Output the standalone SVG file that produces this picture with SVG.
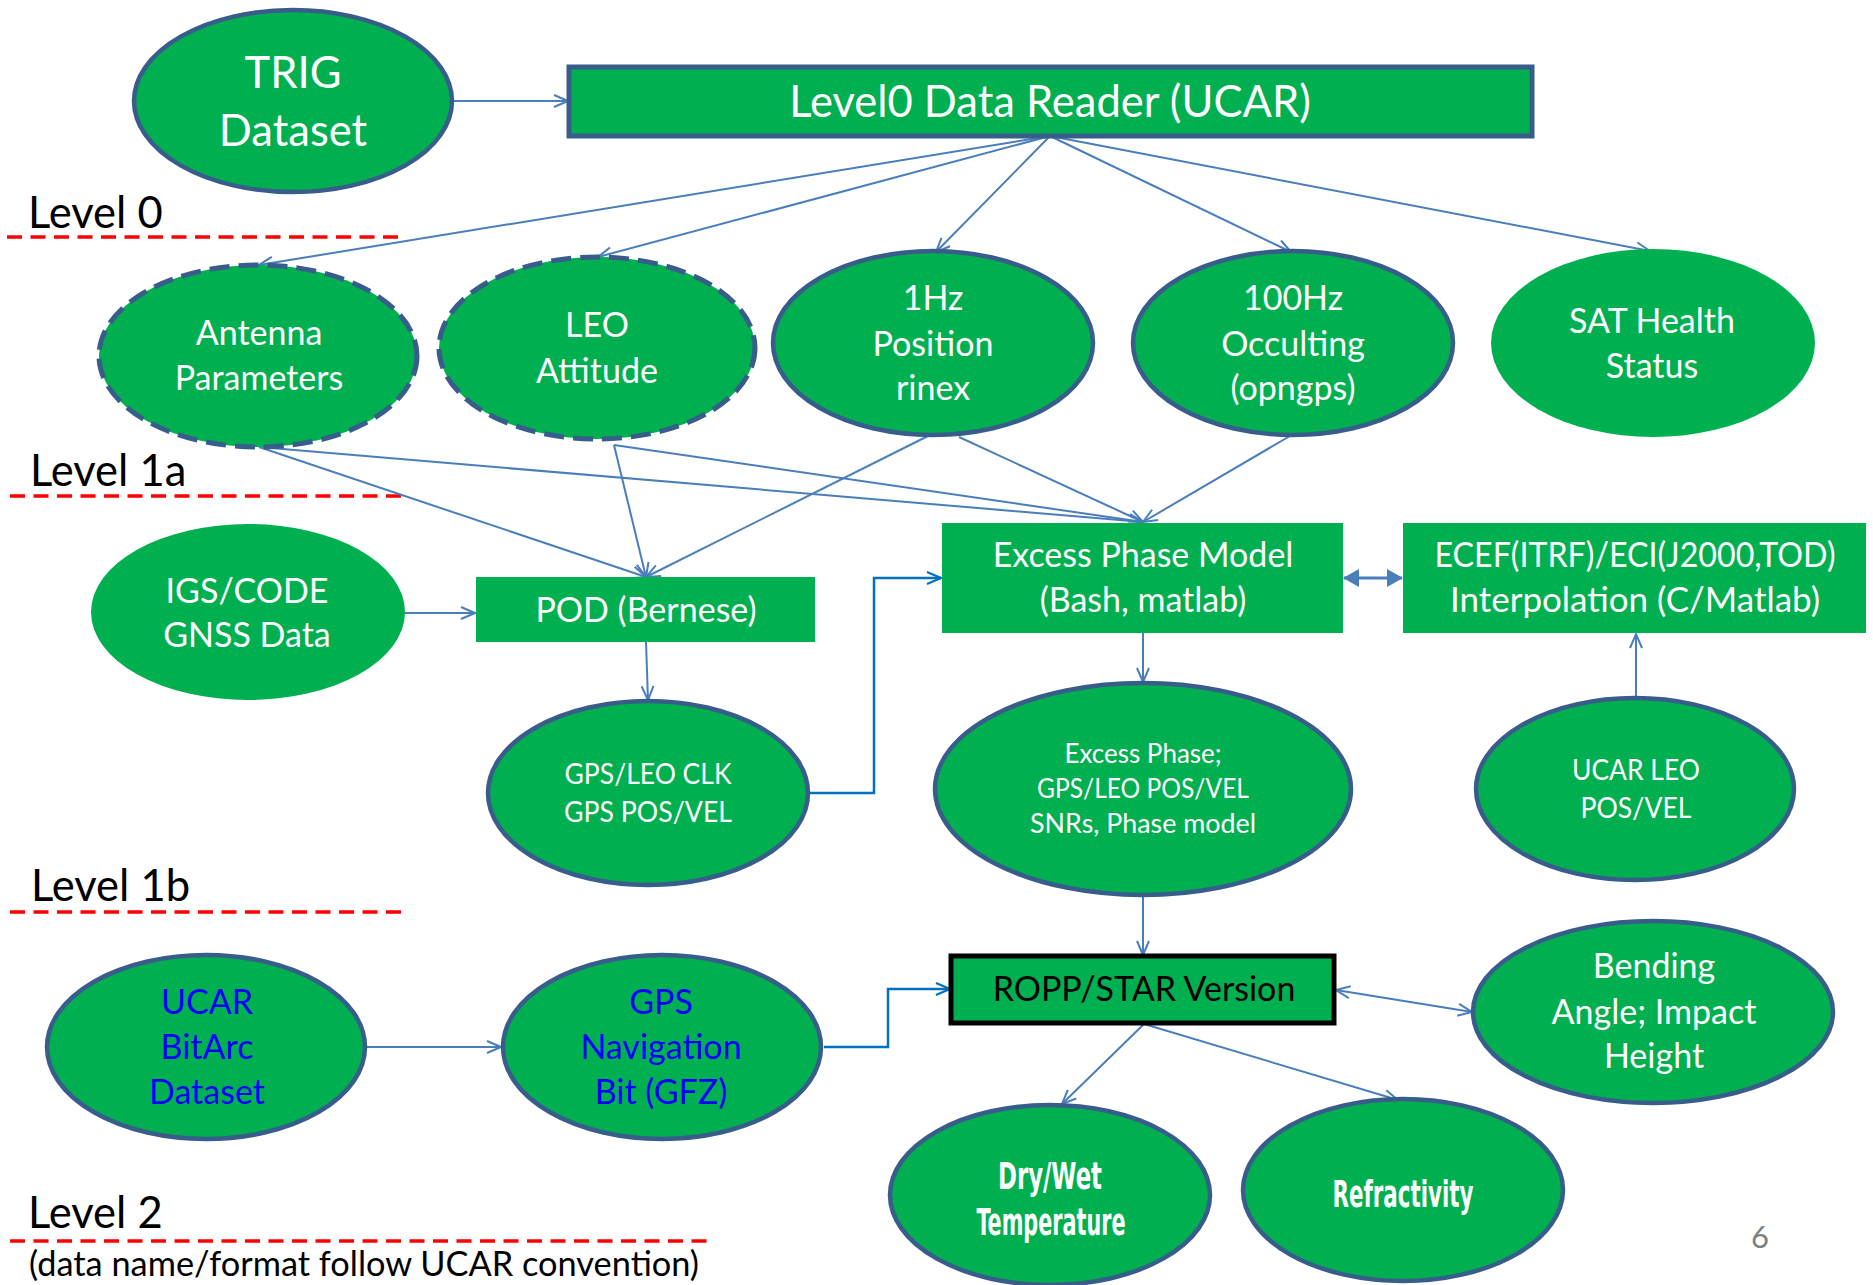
<svg xmlns="http://www.w3.org/2000/svg" width="1873" height="1285" viewBox="0 0 1873 1285">
<defs>
<style>
.g{fill:#00B050}
.o{stroke:#385D8A;stroke-width:4.5}
.d{stroke:#385D8A;stroke-width:5;stroke-dasharray:20 9}
.t{font-family:Lato,"Liberation Sans",sans-serif;fill:#FFFFFF;text-anchor:middle}
.s48{font-size:43.5px}
.s36{font-size:34px}
.s32{font-size:28px}
.s29{font-size:26px}
.blue{fill:#0000FF}
.lvl{font-family:Lato,"Liberation Sans",sans-serif;font-size:43.5px;fill:#000000}
.dash{stroke:#FF0000;stroke-width:3.5;stroke-dasharray:15 8.5;fill:none}
.c{stroke:#4A7EBB;stroke-width:2;fill:none}
.e{stroke:#0070C0;stroke-width:2.5;fill:none}
.imp{font-family:"DejaVu Sans Condensed","DejaVu Sans",sans-serif;font-weight:bold;font-stretch:condensed;fill:#FFFFFF;text-anchor:middle;font-size:38px}
</style>
<marker id="a" markerUnits="userSpaceOnUse" viewBox="0 0 16 14" markerWidth="16" markerHeight="14" refX="15" refY="7" orient="auto-start-reverse">
<path d="M1,1 L15,7 L1,13" fill="none" stroke="#4A7EBB" stroke-width="2"/>
</marker>
<marker id="b" markerUnits="userSpaceOnUse" viewBox="0 0 16 14" markerWidth="16" markerHeight="14" refX="15" refY="7" orient="auto">
<path d="M1,1 L15,7 L1,13" fill="none" stroke="#0070C0" stroke-width="2.2"/>
</marker>
<marker id="f" markerUnits="userSpaceOnUse" viewBox="0 0 16 18" markerWidth="16" markerHeight="18" refX="15" refY="9" orient="auto-start-reverse">
<path d="M0,0 L16,9 L0,18 z" fill="#4A7EBB"/>
</marker>
</defs>
<rect width="1873" height="1285" fill="#FFFFFF"/>

<g id="levels">
<text class="lvl" x="28" y="228">Level 0</text>
<line class="dash" x1="7" y1="237" x2="406" y2="237"/>
<text class="lvl" x="30" y="486">Level 1a</text>
<line class="dash" x1="10" y1="496" x2="409" y2="496"/>
<text class="lvl" x="31" y="901">Level 1b</text>
<line class="dash" x1="10" y1="912" x2="409" y2="912"/>
<text class="lvl" x="28" y="1228">Level 2</text>
<line class="dash" x1="10" y1="1241" x2="712" y2="1241"/>
<text class="lvl" x="29" y="1276" style="font-size:34.4px" textLength="670" lengthAdjust="spacingAndGlyphs">(data name/format follow UCAR convention)</text>
<text x="1751" y="1248" style="font-family:Lato,'Liberation Sans',sans-serif;font-size:31px;fill:#7F7F7F">6</text>
</g>

<g id="connectors">
<line class="c" x1="452" y1="101" x2="568" y2="101" marker-end="url(#a)"/>
<line class="c" x1="1050" y1="136" x2="259" y2="265" marker-end="url(#a)"/>
<line class="c" x1="1050" y1="136" x2="598" y2="257" marker-end="url(#a)"/>
<line class="c" x1="1050" y1="136" x2="936" y2="252" marker-end="url(#a)"/>
<line class="c" x1="1050" y1="136" x2="1291" y2="252" marker-end="url(#a)"/>
<line class="c" x1="1050" y1="136" x2="1650" y2="251" marker-end="url(#a)"/>
<line class="c" x1="259" y1="447" x2="646" y2="577" marker-end="url(#a)"/>
<line class="c" x1="614" y1="445" x2="646" y2="577" marker-end="url(#a)"/>
<line class="c" x1="932" y1="434" x2="646" y2="577" marker-end="url(#a)"/>
<line class="c" x1="259" y1="447" x2="1143" y2="522" marker-end="url(#a)"/>
<line class="c" x1="614" y1="445" x2="1143" y2="522" marker-end="url(#a)"/>
<line class="c" x1="959" y1="437" x2="1143" y2="522" marker-end="url(#a)"/>
<line class="c" x1="1290" y1="436" x2="1143" y2="522" marker-end="url(#a)"/>
<line class="c" x1="405" y1="613" x2="475" y2="613" marker-end="url(#a)"/>
<line class="c" x1="646" y1="642" x2="648" y2="700" marker-end="url(#a)"/>
<polyline class="e" points="808,793 874,793 874,578 941,578" marker-end="url(#b)"/>
<line stroke="#4A7EBB" stroke-width="3" x1="1344" y1="578" x2="1402" y2="578" marker-start="url(#f)" marker-end="url(#f)"/>
<line class="c" x1="1143" y1="633" x2="1143" y2="682" marker-end="url(#a)"/>
<line class="c" x1="1636" y1="698" x2="1636" y2="634" marker-end="url(#a)"/>
<line class="c" x1="1143" y1="895" x2="1143" y2="955" marker-end="url(#a)"/>
<line class="c" x1="366" y1="1047" x2="501" y2="1047" marker-end="url(#a)"/>
<polyline class="e" points="824,1047 888,1047 888,989 950,989" marker-end="url(#b)"/>
<line class="c" x1="1336" y1="990" x2="1472" y2="1012" marker-start="url(#a)" marker-end="url(#a)"/>
<line class="c" x1="1144" y1="1024" x2="1062" y2="1104" marker-end="url(#a)"/>
<line class="c" x1="1144" y1="1024" x2="1398" y2="1100" marker-end="url(#a)"/>
</g>

<g id="trig">
<ellipse class="g o" cx="293" cy="101" rx="159" ry="91"/>
<text class="t s48" x="293" y="88">TRIG</text>
<text class="t s48" x="293" y="146">Dataset</text>
</g>
<g id="reader">
<rect class="g o" x="569" y="67" width="963" height="69" style="stroke-width:5"/>
<text class="t s48" x="1050" y="117">Level0 Data Reader (UCAR)</text>
</g>
<g id="antenna">
<ellipse class="g d" cx="258" cy="356" rx="159" ry="91"/>
<text class="t s36" x="259" y="345">Antenna</text>
<text class="t s36" x="259" y="390">Parameters</text>
</g>
<g id="leo">
<ellipse class="g d" cx="597" cy="348" rx="158" ry="91"/>
<text class="t s36" x="597" y="337">LEO</text>
<text class="t s36" x="597" y="383">Attitude</text>
</g>
<g id="hz1">
<ellipse class="g o" cx="933" cy="343" rx="160" ry="92"/>
<text class="t s36" x="933" y="310">1Hz</text>
<text class="t s36" x="933" y="356">Position</text>
<text class="t s36" x="933" y="400">rinex</text>
</g>
<g id="hz100">
<ellipse class="g o" cx="1293" cy="343" rx="160" ry="92"/>
<text class="t s36" x="1293" y="310">100Hz</text>
<text class="t s36" x="1293" y="356">Occulting</text>
<text class="t s36" x="1293" y="400">(opngps)</text>
</g>
<g id="sat">
<ellipse class="g" cx="1653" cy="343" rx="162" ry="94"/>
<text class="t s36" x="1652" y="333">SAT Health</text>
<text class="t s36" x="1652" y="378">Status</text>
</g>
<g id="igs">
<ellipse class="g" cx="248" cy="612" rx="157" ry="88"/>
<text class="t s36" x="247" y="603">IGS/CODE</text>
<text class="t s36" x="247" y="647">GNSS Data</text>
</g>
<g id="pod">
<rect class="g" x="476" y="577" width="339" height="65"/>
<text class="t s36" x="646" y="622">POD (Bernese)</text>
</g>
<g id="excessModel">
<rect class="g" x="942" y="523" width="401" height="110"/>
<text class="t s36" x="1143" y="567">Excess Phase Model</text>
<text class="t s36" x="1143" y="612">(Bash, matlab)</text>
</g>
<g id="ecef">
<rect class="g" x="1403" y="523" width="463" height="110"/>
<text class="t s36" x="1635" y="567" textLength="401" lengthAdjust="spacingAndGlyphs">ECEF(ITRF)/ECI(J2000,TOD)</text>
<text class="t s36" x="1635" y="612" textLength="370" lengthAdjust="spacingAndGlyphs">Interpolation (C/Matlab)</text>
</g>
<g id="gpsleo">
<ellipse class="g o" cx="648" cy="793" rx="160" ry="92"/>
<text class="t s32" x="648" y="784" textLength="167" lengthAdjust="spacingAndGlyphs">GPS/LEO CLK</text>
<text class="t s32" x="648" y="822" textLength="168" lengthAdjust="spacingAndGlyphs">GPS POS/VEL</text>
</g>
<g id="excessPhase">
<ellipse class="g o" cx="1143" cy="789" rx="208" ry="106"/>
<text class="t s29" x="1143" y="763">Excess Phase;</text>
<text class="t s29" x="1143" y="798" textLength="212" lengthAdjust="spacingAndGlyphs">GPS/LEO POS/VEL</text>
<text class="t s29" x="1143" y="833" textLength="226" lengthAdjust="spacingAndGlyphs">SNRs, Phase model</text>
</g>
<g id="ucarleo">
<ellipse class="g o" cx="1635" cy="789" rx="159" ry="91"/>
<text class="t s32" x="1636" y="780" textLength="128" lengthAdjust="spacingAndGlyphs">UCAR LEO</text>
<text class="t s32" x="1636" y="818" textLength="111" lengthAdjust="spacingAndGlyphs">POS/VEL</text>
</g>
<g id="bitarc">
<ellipse class="g o" cx="206" cy="1047" rx="159" ry="92"/>
<text class="t s36 blue" x="207" y="1014">UCAR</text>
<text class="t s36 blue" x="207" y="1059">BitArc</text>
<text class="t s36 blue" x="207" y="1104">Dataset</text>
</g>
<g id="gpsnav">
<ellipse class="g o" cx="662" cy="1047" rx="159" ry="92"/>
<text class="t s36 blue" x="661" y="1014">GPS</text>
<text class="t s36 blue" x="661" y="1059">Navigation</text>
<text class="t s36 blue" x="661" y="1104">Bit (GFZ)</text>
</g>
<g id="ropp">
<rect class="g" x="951" y="956" width="383" height="67" stroke="#000000" stroke-width="5"/>
<text class="t s36" x="1144" y="1001" style="fill:#000000">ROPP/STAR Version</text>
</g>
<g id="bending">
<ellipse class="g o" cx="1653" cy="1012" rx="180" ry="91"/>
<text class="t s36" x="1654" y="978">Bending</text>
<text class="t s36" x="1654" y="1024">Angle; Impact</text>
<text class="t s36" x="1654" y="1068">Height</text>
</g>
<g id="drywet">
<ellipse class="g o" cx="1050" cy="1195" rx="160" ry="90"/>
<text class="imp" x="1050" y="1189" textLength="104" lengthAdjust="spacingAndGlyphs">Dry/Wet</text>
<text class="imp" x="1051" y="1235" textLength="149" lengthAdjust="spacingAndGlyphs">Temperature</text>
</g>
<g id="refr">
<ellipse class="g o" cx="1403" cy="1190" rx="160" ry="91"/>
<text class="imp" x="1403" y="1207" textLength="141" lengthAdjust="spacingAndGlyphs">Refractivity</text>
</g>
</svg>
